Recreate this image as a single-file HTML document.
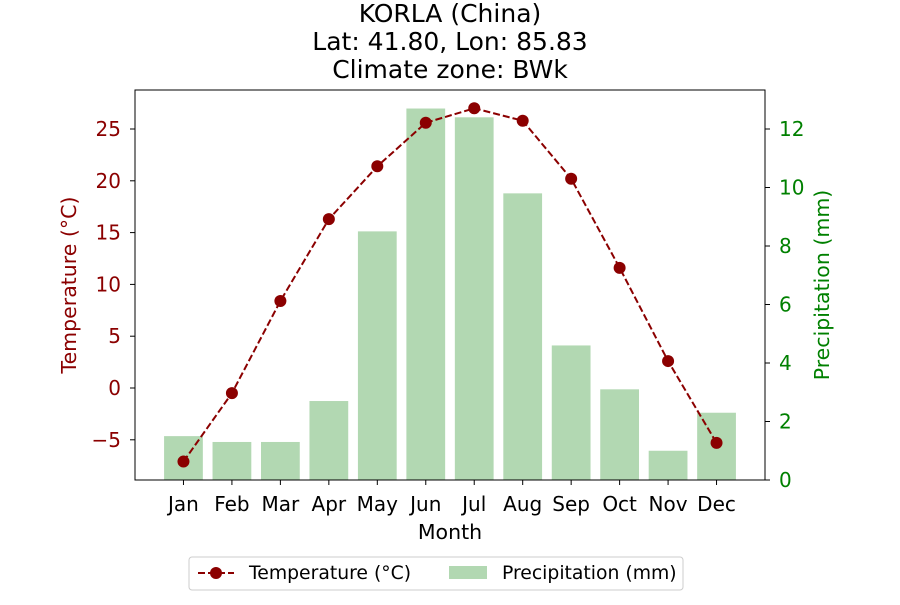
<!DOCTYPE html>
<html><head><meta charset="utf-8"><style>
body{margin:0;background:#fff;font-family:"Liberation Sans","DejaVu Sans",sans-serif;}
svg text{font-family:"DejaVu Sans","Liberation Sans",sans-serif;}
</style></head><body>
<svg id="chart" width="900" height="600" xmlns="http://www.w3.org/2000/svg">
<text x="450" y="22" font-size="25" text-anchor="middle">KORLA (China)</text>
<text x="450" y="50" font-size="25" text-anchor="middle">Lat: 41.80, Lon: 85.83</text>
<text x="450" y="78" font-size="25" text-anchor="middle">Climate zone: BWk</text>
<g id="bars"></g><g id="line"></g><g id="axes"></g>
<rect x="135" y="90" width="630" height="390" fill="none" stroke="#000" stroke-width="1"/>
<text x="450" y="539" font-size="20.5" text-anchor="middle">Month</text>
<text transform="translate(76,285) rotate(-90)" font-size="20.5" text-anchor="middle" fill="#8b0000">Temperature (°C)</text>
<text transform="translate(829,285) rotate(-90)" font-size="20.5" text-anchor="middle" fill="green">Precipitation (mm)</text>
<g>
<rect x="189" y="557" width="494" height="33" rx="3" fill="#fff" stroke="#ccc"/>
<line x1="198" y1="573" x2="234" y2="573" stroke="#8b0000" stroke-width="2" stroke-dasharray="7,3"/>
<circle cx="216" cy="573" r="6" fill="#8b0000"/>
<text x="249" y="579" font-size="18.8">Temperature (°C)</text>
<rect x="449" y="566" width="38" height="13" fill="#b2d8b2"/>
<text x="502" y="579" font-size="18.8">Precipitation (mm)</text>
</g>
</svg>
<script>
const months=["Jan","Feb","Mar","Apr","May","Jun","Jul","Aug","Sep","Oct","Nov","Dec"];
const temps=[-7.1,-0.5,8.4,16.3,21.4,25.6,27.0,25.8,20.2,11.6,2.6,-5.3];
const precip=[1.5,1.3,1.3,2.7,8.5,12.7,12.4,9.8,4.6,3.1,1.0,2.3];
const tempTicks=[-5,0,5,10,15,20,25];
const precipTicks=[0,2,4,6,8,10,12];
const NS="http://www.w3.org/2000/svg";
const X=i=>135+(i+1)*630/13;
const YT=t=>388-t*10.36;
const YP=p=>480-p*29.25;
function mk(tag,attrs,parent){const e=document.createElementNS(NS,tag);for(const k in attrs)e.setAttribute(k,attrs[k]);document.getElementById(parent).appendChild(e);return e;}
const bw=0.8*630/13;
precip.forEach((p,i)=>{const r=mk('rect',{x:X(i)-bw/2,y:YP(p),width:bw,height:480-YP(p),fill:'#b2d8b2'},'bars');

});
const pl=mk('polyline',{points:temps.map((t,i)=>X(i)+','+YT(t)).join(' '),fill:'none',stroke:'#8b0000','stroke-width':2,'stroke-dasharray':'7,3'},'line');


temps.forEach((t,i)=>{const c=mk('circle',{cx:X(i),cy:YT(t),r:6,fill:'#8b0000'},'line');

});
months.forEach((m,i)=>{mk('line',{x1:X(i),x2:X(i),y1:480,y2:485,stroke:'#000'},'axes');
const t=mk('text',{x:X(i),y:511,'font-size':20,'text-anchor':'middle'},'axes');t.textContent=m;

});
tempTicks.forEach(v=>{mk('line',{x1:130,x2:135,y1:YT(v),y2:YT(v),stroke:'#000'},'axes');
const t=mk('text',{x:121,y:YT(v)+7,'font-size':20,'text-anchor':'end',fill:'#8b0000'},'axes');t.textContent=v<0?'\u2212'+(-v):v;

});
precipTicks.forEach(v=>{mk('line',{x1:765,x2:770,y1:YP(v),y2:YP(v),stroke:'#000'},'axes');
const t=mk('text',{x:779,y:YP(v)+7,'font-size':20,fill:'green'},'axes');t.textContent=v;

});
</script>
</body></html>
